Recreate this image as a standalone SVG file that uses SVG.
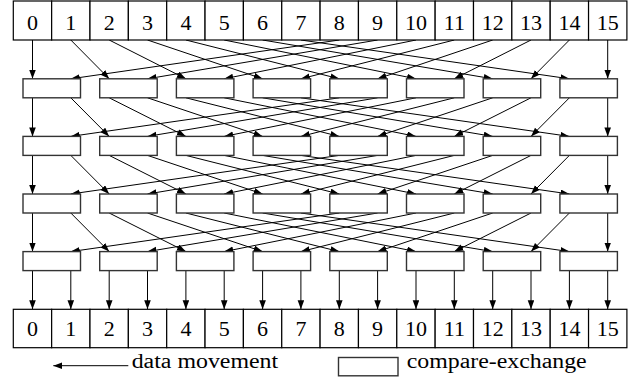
<svg xmlns="http://www.w3.org/2000/svg" width="630" height="377" viewBox="0 0 630 377" font-family="Liberation Serif, serif">
<style>
.cell{fill:#fff;stroke:#000;stroke-width:1.2}
.box{fill:#fff;stroke:#333;stroke-width:1.4}
.num{font-size:22px;text-anchor:middle;fill:#000}
.lg{font-size:20px;fill:#000}
.c line{stroke:#000;stroke-width:1;marker-end:url(#ah)}
</style>
<defs>
<marker id="ah" markerUnits="userSpaceOnUse" markerWidth="10" markerHeight="8" refX="9" refY="3.3" orient="auto">
<path d="M0,0 L9,3.3 L0,6.6 z" fill="#000"/>
</marker>
</defs>
<rect width="630" height="377" fill="#fff"/>

<g id="connectors" class="c">
<line x1="32.5" y1="40" x2="32.5" y2="78.8"/>
<line x1="70.8" y1="40" x2="109.2" y2="78.8"/>
<line x1="109.2" y1="40" x2="185.9" y2="78.8"/>
<line x1="147.5" y1="40" x2="262.6" y2="78.8"/>
<line x1="185.9" y1="40" x2="339.3" y2="78.8"/>
<line x1="224.2" y1="40" x2="416.0" y2="78.8"/>
<line x1="262.6" y1="40" x2="492.7" y2="78.8"/>
<line x1="300.9" y1="40" x2="569.4" y2="78.8"/>
<line x1="339.3" y1="40" x2="70.8" y2="78.8"/>
<line x1="377.6" y1="40" x2="147.5" y2="78.8"/>
<line x1="416.0" y1="40" x2="224.2" y2="78.8"/>
<line x1="454.3" y1="40" x2="300.9" y2="78.8"/>
<line x1="492.7" y1="40" x2="377.6" y2="78.8"/>
<line x1="531.0" y1="40" x2="454.3" y2="78.8"/>
<line x1="569.4" y1="40" x2="531.0" y2="78.8"/>
<line x1="607.7" y1="40" x2="607.7" y2="78.8"/>
<line x1="32.5" y1="97.8" x2="32.5" y2="136.4"/>
<line x1="70.8" y1="97.8" x2="109.2" y2="136.4"/>
<line x1="109.2" y1="97.8" x2="185.9" y2="136.4"/>
<line x1="147.5" y1="97.8" x2="262.6" y2="136.4"/>
<line x1="185.9" y1="97.8" x2="339.3" y2="136.4"/>
<line x1="224.2" y1="97.8" x2="416.0" y2="136.4"/>
<line x1="262.6" y1="97.8" x2="492.7" y2="136.4"/>
<line x1="300.9" y1="97.8" x2="569.4" y2="136.4"/>
<line x1="339.3" y1="97.8" x2="70.8" y2="136.4"/>
<line x1="377.6" y1="97.8" x2="147.5" y2="136.4"/>
<line x1="416.0" y1="97.8" x2="224.2" y2="136.4"/>
<line x1="454.3" y1="97.8" x2="300.9" y2="136.4"/>
<line x1="492.7" y1="97.8" x2="377.6" y2="136.4"/>
<line x1="531.0" y1="97.8" x2="454.3" y2="136.4"/>
<line x1="569.4" y1="97.8" x2="531.0" y2="136.4"/>
<line x1="607.7" y1="97.8" x2="607.7" y2="136.4"/>
<line x1="32.5" y1="155.4" x2="32.5" y2="194"/>
<line x1="70.8" y1="155.4" x2="109.2" y2="194"/>
<line x1="109.2" y1="155.4" x2="185.9" y2="194"/>
<line x1="147.5" y1="155.4" x2="262.6" y2="194"/>
<line x1="185.9" y1="155.4" x2="339.3" y2="194"/>
<line x1="224.2" y1="155.4" x2="416.0" y2="194"/>
<line x1="262.6" y1="155.4" x2="492.7" y2="194"/>
<line x1="300.9" y1="155.4" x2="569.4" y2="194"/>
<line x1="339.3" y1="155.4" x2="70.8" y2="194"/>
<line x1="377.6" y1="155.4" x2="147.5" y2="194"/>
<line x1="416.0" y1="155.4" x2="224.2" y2="194"/>
<line x1="454.3" y1="155.4" x2="300.9" y2="194"/>
<line x1="492.7" y1="155.4" x2="377.6" y2="194"/>
<line x1="531.0" y1="155.4" x2="454.3" y2="194"/>
<line x1="569.4" y1="155.4" x2="531.0" y2="194"/>
<line x1="607.7" y1="155.4" x2="607.7" y2="194"/>
<line x1="32.5" y1="213" x2="32.5" y2="251.6"/>
<line x1="70.8" y1="213" x2="109.2" y2="251.6"/>
<line x1="109.2" y1="213" x2="185.9" y2="251.6"/>
<line x1="147.5" y1="213" x2="262.6" y2="251.6"/>
<line x1="185.9" y1="213" x2="339.3" y2="251.6"/>
<line x1="224.2" y1="213" x2="416.0" y2="251.6"/>
<line x1="262.6" y1="213" x2="492.7" y2="251.6"/>
<line x1="300.9" y1="213" x2="569.4" y2="251.6"/>
<line x1="339.3" y1="213" x2="70.8" y2="251.6"/>
<line x1="377.6" y1="213" x2="147.5" y2="251.6"/>
<line x1="416.0" y1="213" x2="224.2" y2="251.6"/>
<line x1="454.3" y1="213" x2="300.9" y2="251.6"/>
<line x1="492.7" y1="213" x2="377.6" y2="251.6"/>
<line x1="531.0" y1="213" x2="454.3" y2="251.6"/>
<line x1="569.4" y1="213" x2="531.0" y2="251.6"/>
<line x1="607.7" y1="213" x2="607.7" y2="251.6"/>
<line x1="32.5" y1="270.6" x2="32.5" y2="309.3"/>
<line x1="70.8" y1="270.6" x2="70.8" y2="309.3"/>
<line x1="109.2" y1="270.6" x2="109.2" y2="309.3"/>
<line x1="147.5" y1="270.6" x2="147.5" y2="309.3"/>
<line x1="185.9" y1="270.6" x2="185.9" y2="309.3"/>
<line x1="224.2" y1="270.6" x2="224.2" y2="309.3"/>
<line x1="262.6" y1="270.6" x2="262.6" y2="309.3"/>
<line x1="300.9" y1="270.6" x2="300.9" y2="309.3"/>
<line x1="339.3" y1="270.6" x2="339.3" y2="309.3"/>
<line x1="377.6" y1="270.6" x2="377.6" y2="309.3"/>
<line x1="416.0" y1="270.6" x2="416.0" y2="309.3"/>
<line x1="454.3" y1="270.6" x2="454.3" y2="309.3"/>
<line x1="492.7" y1="270.6" x2="492.7" y2="309.3"/>
<line x1="531.0" y1="270.6" x2="531.0" y2="309.3"/>
<line x1="569.4" y1="270.6" x2="569.4" y2="309.3"/>
<line x1="607.7" y1="270.6" x2="607.7" y2="309.3"/>
<line x1="128.3" y1="365.7" x2="53.3" y2="365.7"/>
</g>

<g id="top-row">
<g id="in0"><rect class="cell" x="13.3" y="1" width="38.35" height="39"/><text class="num" x="32.5" y="30">0</text></g>
<g id="in1"><rect class="cell" x="51.65" y="1" width="38.35" height="39"/><text class="num" x="70.8" y="30">1</text></g>
<g id="in2"><rect class="cell" x="90" y="1" width="38.35" height="39"/><text class="num" x="109.2" y="30">2</text></g>
<g id="in3"><rect class="cell" x="128.35" y="1" width="38.35" height="39"/><text class="num" x="147.5" y="30">3</text></g>
<g id="in4"><rect class="cell" x="166.7" y="1" width="38.35" height="39"/><text class="num" x="185.9" y="30">4</text></g>
<g id="in5"><rect class="cell" x="205.05" y="1" width="38.35" height="39"/><text class="num" x="224.2" y="30">5</text></g>
<g id="in6"><rect class="cell" x="243.4" y="1" width="38.35" height="39"/><text class="num" x="262.6" y="30">6</text></g>
<g id="in7"><rect class="cell" x="281.75" y="1" width="38.35" height="39"/><text class="num" x="300.9" y="30">7</text></g>
<g id="in8"><rect class="cell" x="320.1" y="1" width="38.35" height="39"/><text class="num" x="339.3" y="30">8</text></g>
<g id="in9"><rect class="cell" x="358.45" y="1" width="38.35" height="39"/><text class="num" x="377.6" y="30">9</text></g>
<g id="in10"><rect class="cell" x="396.8" y="1" width="38.35" height="39"/><text class="num" x="416.0" y="30">10</text></g>
<g id="in11"><rect class="cell" x="435.15" y="1" width="38.35" height="39"/><text class="num" x="454.3" y="30">11</text></g>
<g id="in12"><rect class="cell" x="473.5" y="1" width="38.35" height="39"/><text class="num" x="492.7" y="30">12</text></g>
<g id="in13"><rect class="cell" x="511.85" y="1" width="38.35" height="39"/><text class="num" x="531.0" y="30">13</text></g>
<g id="in14"><rect class="cell" x="550.2" y="1" width="38.35" height="39"/><text class="num" x="569.4" y="30">14</text></g>
<g id="in15"><rect class="cell" x="588.55" y="1" width="38.35" height="39"/><text class="num" x="607.7" y="30">15</text></g>
</g>

<g id="stage1">
<g id="b1-0"><rect class="box" x="23" y="78.8" width="57.5" height="19"/></g>
<g id="b1-1"><rect class="box" x="99.7" y="78.8" width="57.5" height="19"/></g>
<g id="b1-2"><rect class="box" x="176.4" y="78.8" width="57.5" height="19"/></g>
<g id="b1-3"><rect class="box" x="253.1" y="78.8" width="57.5" height="19"/></g>
<g id="b1-4"><rect class="box" x="329.8" y="78.8" width="57.5" height="19"/></g>
<g id="b1-5"><rect class="box" x="406.5" y="78.8" width="57.5" height="19"/></g>
<g id="b1-6"><rect class="box" x="483.2" y="78.8" width="57.5" height="19"/></g>
<g id="b1-7"><rect class="box" x="559.9" y="78.8" width="57.5" height="19"/></g>
</g>
<g id="stage2">
<g id="b2-0"><rect class="box" x="23" y="136.4" width="57.5" height="19"/></g>
<g id="b2-1"><rect class="box" x="99.7" y="136.4" width="57.5" height="19"/></g>
<g id="b2-2"><rect class="box" x="176.4" y="136.4" width="57.5" height="19"/></g>
<g id="b2-3"><rect class="box" x="253.1" y="136.4" width="57.5" height="19"/></g>
<g id="b2-4"><rect class="box" x="329.8" y="136.4" width="57.5" height="19"/></g>
<g id="b2-5"><rect class="box" x="406.5" y="136.4" width="57.5" height="19"/></g>
<g id="b2-6"><rect class="box" x="483.2" y="136.4" width="57.5" height="19"/></g>
<g id="b2-7"><rect class="box" x="559.9" y="136.4" width="57.5" height="19"/></g>
</g>
<g id="stage3">
<g id="b3-0"><rect class="box" x="23" y="194" width="57.5" height="19"/></g>
<g id="b3-1"><rect class="box" x="99.7" y="194" width="57.5" height="19"/></g>
<g id="b3-2"><rect class="box" x="176.4" y="194" width="57.5" height="19"/></g>
<g id="b3-3"><rect class="box" x="253.1" y="194" width="57.5" height="19"/></g>
<g id="b3-4"><rect class="box" x="329.8" y="194" width="57.5" height="19"/></g>
<g id="b3-5"><rect class="box" x="406.5" y="194" width="57.5" height="19"/></g>
<g id="b3-6"><rect class="box" x="483.2" y="194" width="57.5" height="19"/></g>
<g id="b3-7"><rect class="box" x="559.9" y="194" width="57.5" height="19"/></g>
</g>
<g id="stage4">
<g id="b4-0"><rect class="box" x="23" y="251.6" width="57.5" height="19"/></g>
<g id="b4-1"><rect class="box" x="99.7" y="251.6" width="57.5" height="19"/></g>
<g id="b4-2"><rect class="box" x="176.4" y="251.6" width="57.5" height="19"/></g>
<g id="b4-3"><rect class="box" x="253.1" y="251.6" width="57.5" height="19"/></g>
<g id="b4-4"><rect class="box" x="329.8" y="251.6" width="57.5" height="19"/></g>
<g id="b4-5"><rect class="box" x="406.5" y="251.6" width="57.5" height="19"/></g>
<g id="b4-6"><rect class="box" x="483.2" y="251.6" width="57.5" height="19"/></g>
<g id="b4-7"><rect class="box" x="559.9" y="251.6" width="57.5" height="19"/></g>
</g>

<g id="bottom-row">
<g id="out0"><rect class="cell" x="13.3" y="309.3" width="38.35" height="38.4"/><text class="num" x="32.5" y="336">0</text></g>
<g id="out1"><rect class="cell" x="51.65" y="309.3" width="38.35" height="38.4"/><text class="num" x="70.8" y="336">1</text></g>
<g id="out2"><rect class="cell" x="90" y="309.3" width="38.35" height="38.4"/><text class="num" x="109.2" y="336">2</text></g>
<g id="out3"><rect class="cell" x="128.35" y="309.3" width="38.35" height="38.4"/><text class="num" x="147.5" y="336">3</text></g>
<g id="out4"><rect class="cell" x="166.7" y="309.3" width="38.35" height="38.4"/><text class="num" x="185.9" y="336">4</text></g>
<g id="out5"><rect class="cell" x="205.05" y="309.3" width="38.35" height="38.4"/><text class="num" x="224.2" y="336">5</text></g>
<g id="out6"><rect class="cell" x="243.4" y="309.3" width="38.35" height="38.4"/><text class="num" x="262.6" y="336">6</text></g>
<g id="out7"><rect class="cell" x="281.75" y="309.3" width="38.35" height="38.4"/><text class="num" x="300.9" y="336">7</text></g>
<g id="out8"><rect class="cell" x="320.1" y="309.3" width="38.35" height="38.4"/><text class="num" x="339.3" y="336">8</text></g>
<g id="out9"><rect class="cell" x="358.45" y="309.3" width="38.35" height="38.4"/><text class="num" x="377.6" y="336">9</text></g>
<g id="out10"><rect class="cell" x="396.8" y="309.3" width="38.35" height="38.4"/><text class="num" x="416.0" y="336">10</text></g>
<g id="out11"><rect class="cell" x="435.15" y="309.3" width="38.35" height="38.4"/><text class="num" x="454.3" y="336">11</text></g>
<g id="out12"><rect class="cell" x="473.5" y="309.3" width="38.35" height="38.4"/><text class="num" x="492.7" y="336">12</text></g>
<g id="out13"><rect class="cell" x="511.85" y="309.3" width="38.35" height="38.4"/><text class="num" x="531.0" y="336">13</text></g>
<g id="out14"><rect class="cell" x="550.2" y="309.3" width="38.35" height="38.4"/><text class="num" x="569.4" y="336">14</text></g>
<g id="out15"><rect class="cell" x="588.55" y="309.3" width="38.35" height="38.4"/><text class="num" x="607.7" y="336">15</text></g>
</g>

<g id="legend">
<text class="lg" x="131.7" y="368.3" textLength="146.5" lengthAdjust="spacingAndGlyphs">data movement</text>
<rect class="box" x="338.5" y="357.5" width="59.5" height="18.3"/>
<text class="lg" x="406.7" y="368.3" textLength="180" lengthAdjust="spacingAndGlyphs">compare-exchange</text>
</g>
</svg>
